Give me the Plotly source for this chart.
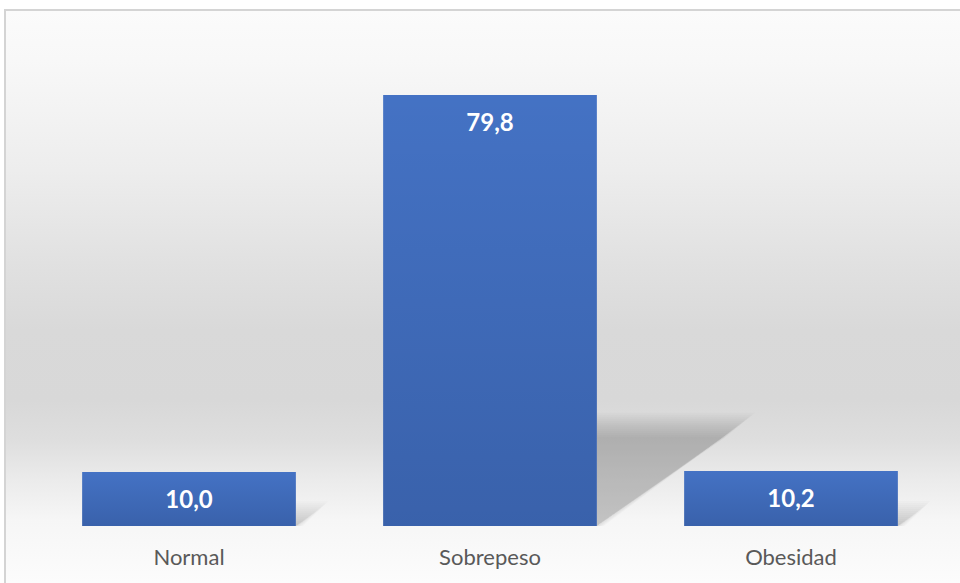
import plotly.graph_objects as go

# Data
categories = ["Normal", "Sobrepeso", "Obesidad"]
values = [10.0, 79.8, 10.2]

# Styling constants
W, H = 960, 583
BAR_COLOR = "#4472c4"
BAR_WIDTH = 0.71
PX_PER_X = 301.0          # pixels per category step
PX_PER_Y = 5.4            # pixels per value unit
BASE_PX = 526             # baseline position from the top
X0_PX = 189               # centre of first category from the left

x_pos = list(range(len(categories)))
x_range = [-X0_PX / PX_PER_X, (W - X0_PX) / PX_PER_X]
y_range = [-(H - BASE_PX) / PX_PER_Y, BASE_PX / PX_PER_Y]

fig = go.Figure()

# Chart-area background: vertical grey gradient (main axes span the paper 0..1)
top_frac = (H - 10) / H
left_frac = 5 / W
bg_stops = [  # (pixels from top, grey level)
    (583, 252), (520, 246), (480, 235), (440, 222), (400, 216),
    (330, 217), (270, 224), (170, 237), (60, 248), (10, 251),
]
bg_scale = []
for px, g in bg_stops:
    f = (H - px) / (H - 10)
    bg_scale.append([max(0.0, min(1.0, f)), f"rgb({g},{g},{g})"])
fig.add_trace(go.Scatter(
    x=[left_frac, 1.01, 1.01, left_frac, left_frac],
    y=[0, 0, top_frac, top_frac, 0],
    xaxis="x", yaxis="y",
    mode="lines", line=dict(width=0),
    fill="toself",
    fillgradient=dict(type="vertical", colorscale=bg_scale, start=0, stop=top_frac),
    hoverinfo="skip", showlegend=False,
))

# Soft cast shadows to the right of each bar (stacked translucent layers)
ex = 1.0 / PX_PER_X
ey = 1.0 / PX_PER_Y
for i, v in zip(x_pos, values):
    xr = i + BAR_WIDTH / 2
    h = 0.235 * v
    d = 0.0060 * v
    for e in range(-12, 13, 2):
        top = max(h + e * ey, 0.3)
        right = max(xr + d + 1.2 * e * ex, xr + 0.002)
        foot = xr + max(e, 0) * 0.6 * ex
        fig.add_trace(go.Scatter(
            x=[xr, foot, right, xr, xr],
            y=[0, 0, top, top, 0],
            xaxis="x2", yaxis="y2",
            mode="lines", line=dict(width=0),
            fill="toself", fillcolor="rgba(0,0,0,0.016)",
            hoverinfo="skip", showlegend=False,
        ))

# Bars
fig.add_trace(go.Bar(
    x=x_pos, y=values, width=BAR_WIDTH,
    xaxis="x2", yaxis="y2",
    marker=dict(color=BAR_COLOR, line=dict(width=0)),
    hoverinfo="skip", showlegend=False,
))

# Darkening toward the bottom of each bar
for i, v in zip(x_pos, values):
    x0, x1 = i - BAR_WIDTH / 2, i + BAR_WIDTH / 2
    fig.add_trace(go.Scatter(
        x=[x0, x1, x1, x0, x0], y=[0, 0, v, v, 0],
        xaxis="x2", yaxis="y2",
        mode="lines", line=dict(width=0),
        fill="toself",
        fillgradient=dict(type="vertical",
                          colorscale=[[0, "rgba(0,10,40,0.16)"], [1, "rgba(0,10,40,0)"]]),
        hoverinfo="skip", showlegend=False,
    ))

# Value labels inside the top of each bar
labels = [f"{v:.1f}".replace(".", ",") for v in values]
fig.add_trace(go.Scatter(
    x=x_pos, y=[v - 5.6 for v in values],
    xaxis="x2", yaxis="y2",
    mode="text", text=labels, textposition="middle center",
    textfont=dict(family="Lato", size=24, color="white", weight="bold"),
    hoverinfo="skip", showlegend=False,
))

fig.update_layout(
    width=W, height=H,
    margin=dict(l=0, r=0, t=0, b=0),
    paper_bgcolor="white", plot_bgcolor="rgba(0,0,0,0)",
    xaxis=dict(range=[0, 1], domain=[0, 1], visible=False, fixedrange=True),
    yaxis=dict(range=[0, 1], domain=[0, 1], visible=False, fixedrange=True),
    xaxis2=dict(
        overlaying="x", anchor="free", position=(H - BASE_PX) / H,
        range=x_range, tickvals=x_pos, ticktext=categories,
        showline=False, showgrid=False, zeroline=False, ticks="",
        ticklabelstandoff=16,
        tickfont=dict(family="Lato", size=22, color="#595959"),
        fixedrange=True,
    ),
    yaxis2=dict(overlaying="y", anchor="x2", range=y_range, visible=False,
                fixedrange=True),
    shapes=[dict(
        type="rect", xref="paper", yref="paper",
        x0=left_frac, x1=1.02, y0=-0.02, y1=top_frac,
        line=dict(color="#d4d4d4", width=2), fillcolor="rgba(0,0,0,0)",
        layer="above",
    )],
)

fig.write_html("out.html")
